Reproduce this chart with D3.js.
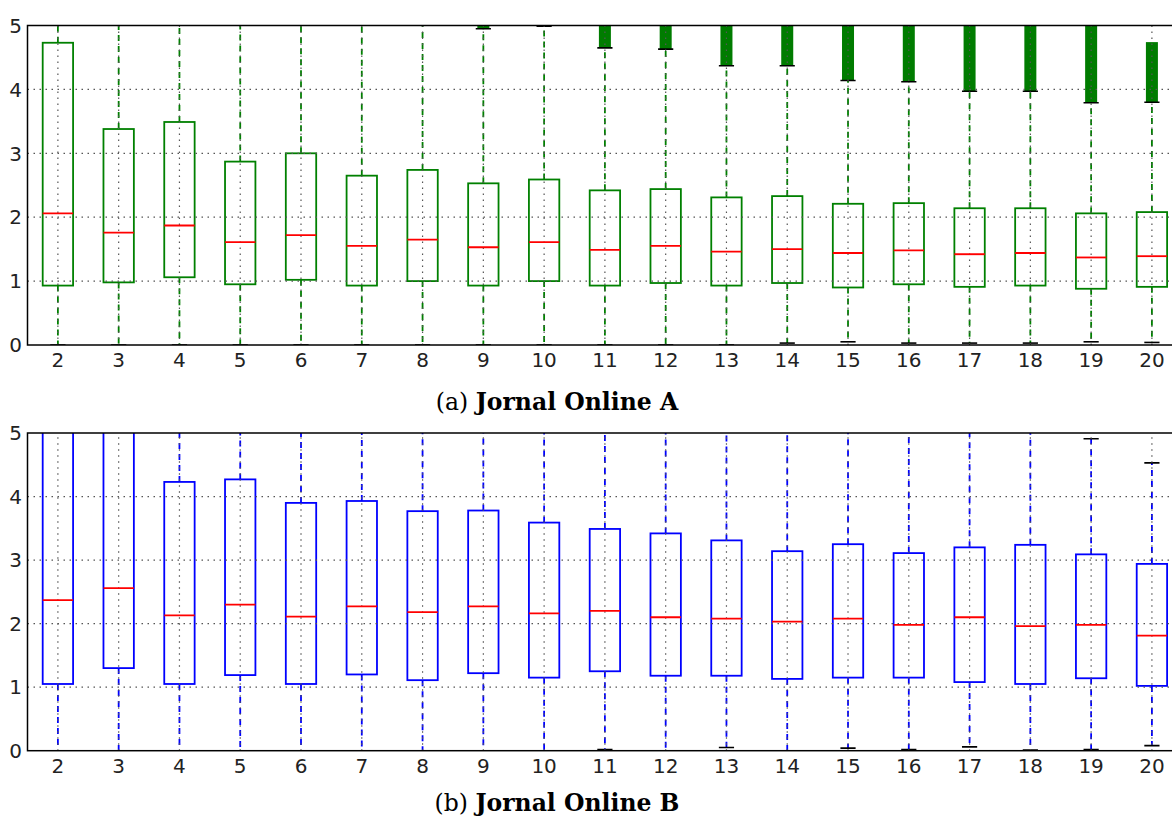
<!DOCTYPE html>
<html>
<head>
<meta charset="utf-8">
<script src="https://cdnjs.cloudflare.com/ajax/libs/d3/7.8.5/d3.min.js"></script>
<style>
    body { margin: 0; background: #fff; }
    .tick-label { font-family: "DejaVu Sans", sans-serif; font-size: 20px; fill: #222; }
    .caption { font-family: "DejaVu Serif", serif; font-size: 23.5px; fill: #000; }
</style>
</head>
<body>
<script>

var categories = [2, 3, 4, 5, 6, 7, 8, 9, 10, 11, 12, 13, 14, 15, 16, 17, 18, 19, 20];
var yTicks = [0, 1, 2, 3, 4, 5];

// Jornal Online A
var aQ1 = [0.93, 0.98, 1.06, 0.95, 1.02, 0.93, 1.00, 0.93, 1.00, 0.93, 0.97, 0.93, 0.97, 0.90, 0.95, 0.91, 0.93, 0.88, 0.91];
var aMedian = [2.06, 1.76, 1.87, 1.61, 1.72, 1.55, 1.65, 1.53, 1.61, 1.49, 1.55, 1.46, 1.50, 1.44, 1.48, 1.42, 1.44, 1.37, 1.39];
var aQ3 = [4.73, 3.38, 3.49, 2.87, 3.00, 2.65, 2.74, 2.53, 2.59, 2.42, 2.44, 2.31, 2.33, 2.21, 2.22, 2.14, 2.14, 2.06, 2.08];
var aWhiskerLow = [0, 0, 0, 0, 0, 0, 0, 0, 0, 0, 0, 0, 0.03, 0.05, 0.03, 0.03, 0.03, 0.05, 0.04];
var aWhiskerHigh = [5.5, 5.5, 5.5, 5.5, 5.5, 5.5, 5.5, 4.95, 4.99, 4.65, 4.63, 4.37, 4.37, 4.14, 4.12, 3.97, 3.97, 3.79, 3.80];
var aFlierMax = [null, null, null, null, null, null, null, 5.5, 5.5, 5.5, 5.5, 5.5, 5.5, 5.5, 5.5, 5.5, 5.5, 5.5, 4.74];

// Jornal Online B
var bQ1 = [1.05, 1.30, 1.05, 1.19, 1.05, 1.20, 1.11, 1.22, 1.15, 1.25, 1.18, 1.18, 1.13, 1.15, 1.15, 1.08, 1.05, 1.14, 1.02];
var bMedian = [2.37, 2.56, 2.13, 2.30, 2.11, 2.27, 2.18, 2.27, 2.16, 2.20, 2.10, 2.08, 2.03, 2.08, 1.98, 2.10, 1.96, 1.98, 1.81];
var bQ3 = [5.5, 5.5, 4.23, 4.27, 3.90, 3.93, 3.77, 3.78, 3.59, 3.49, 3.42, 3.31, 3.14, 3.25, 3.11, 3.20, 3.24, 3.09, 2.94];
var bWhiskerLow = [0, 0, 0, 0, 0, 0, 0, 0, 0, 0.02, 0, 0.05, 0, 0.04, 0.02, 0.06, 0.01, 0.02, 0.08];
var bWhiskerHigh = [5.5, 5.5, 5.5, 5.5, 5.5, 5.5, 5.5, 5.5, 5.5, 5.5, 5.5, 5.5, 5.5, 5.5, 5.5, 5.5, 5.5, 4.91, 4.53];
var bFlierMax = categories.map(() => null);

var width = 1172, height = 820;

var svg = d3.select("body").append("svg")
    .attr("width", width)
    .attr("height", height);

function panel(id, top, bottom, q1, med, q3, lo, hi, fmax, colour, caption, letter, captionY) {

    var rows = categories.map((c, i) => ({
        cat: c, q1: q1[i], med: med[i], q3: q3[i], lo: lo[i], hi: hi[i], fmax: fmax[i]
    }));

    var x = d3.scaleLinear()
        .domain([0.5, categories.length + 0.5])
        .range([27.5, 1182.3]);

    var y = d3.scaleLinear()
        .domain([0, 5])
        .range([bottom, top]);

    var step = x(2) - x(1);
    var boxW = step * 0.5;

    var g = svg.append('g');

    svg.append('clipPath')
        .attr('id', 'clip' + id)
        .append('rect')
        .attr('x', x(0.5))
        .attr('y', y(5))
        .attr('width', x(categories.length + 0.5) - x(0.5))
        .attr('height', y(0) - y(5));

    var plot = g.append('g').attr('clip-path', `url(#clip${id})`);

    // whiskers (dashed)
    plot.selectAll('line.whiskLo')
        .data(rows)
        .enter()
        .append('line')
        .attr('x1', (e, i) => x(i + 1))
        .attr('x2', (e, i) => x(i + 1))
        .attr('y1', e => y(e.q1))
        .attr('y2', e => y(e.lo))
        .style('stroke', colour)
        .style('stroke-width', 1.8)
        .style('stroke-dasharray', '6,5');

    plot.selectAll('line.whiskHi')
        .data(rows)
        .enter()
        .append('line')
        .attr('x1', (e, i) => x(i + 1))
        .attr('x2', (e, i) => x(i + 1))
        .attr('y1', e => y(e.q3))
        .attr('y2', e => y(e.hi))
        .style('stroke', colour)
        .style('stroke-width', 1.8)
        .style('stroke-dasharray', '6,5');

    // fliers, packed so densely they form a solid band
    plot.selectAll('rect.flier')
        .data(rows.filter(e => e.fmax != null))
        .enter()
        .append('rect')
        .attr('x', e => x(categories.indexOf(e.cat) + 1) - 6)
        .attr('width', 12)
        .attr('y', e => y(e.fmax))
        .attr('height', e => y(e.hi) - y(e.fmax))
        .style('fill', '#007c00');

    // caps
    plot.selectAll('line.capLo')
        .data(rows)
        .enter()
        .append('line')
        .attr('x1', (e, i) => x(i + 1) - boxW / 4)
        .attr('x2', (e, i) => x(i + 1) + boxW / 4)
        .attr('y1', e => y(e.lo))
        .attr('y2', e => y(e.lo))
        .style('stroke', '#000')
        .style('stroke-width', 1.6);

    plot.selectAll('line.capHi')
        .data(rows)
        .enter()
        .append('line')
        .attr('x1', (e, i) => x(i + 1) - boxW / 4)
        .attr('x2', (e, i) => x(i + 1) + boxW / 4)
        .attr('y1', e => y(e.hi))
        .attr('y2', e => y(e.hi))
        .style('stroke', '#000')
        .style('stroke-width', 1.6);

    // boxes
    plot.selectAll('rect.box')
        .data(rows)
        .enter()
        .append('rect')
        .attr('x', (e, i) => x(i + 1) - boxW / 2)
        .attr('width', boxW)
        .attr('y', e => y(e.q3))
        .attr('height', e => y(e.q1) - y(e.q3))
        .style('fill', 'none')
        .style('stroke', colour)
        .style('stroke-width', 1.8);

    // grid (dotted, drawn over the marks like matplotlib)
    plot.selectAll('line.hgrid')
        .data(yTicks.slice(1, -1))
        .enter()
        .append('line')
        .attr('x1', x(0.5))
        .attr('x2', x(categories.length + 0.5))
        .attr('y1', e => y(e))
        .attr('y2', e => y(e))
        .style('stroke', '#555')
        .style('stroke-width', 1.2)
        .style('stroke-dasharray', '1.5,4.5');

    plot.selectAll('line.vgrid')
        .data(categories)
        .enter()
        .append('line')
        .attr('x1', (e, i) => x(i + 1))
        .attr('x2', (e, i) => x(i + 1))
        .attr('y1', y(0))
        .attr('y2', y(5))
        .style('stroke', '#555')
        .style('stroke-width', 1.2)
        .style('stroke-dasharray', '1.5,4.5');

    // medians
    plot.selectAll('line.median')
        .data(rows)
        .enter()
        .append('line')
        .attr('x1', (e, i) => x(i + 1) - boxW / 2)
        .attr('x2', (e, i) => x(i + 1) + boxW / 2)
        .attr('y1', e => y(e.med))
        .attr('y2', e => y(e.med))
        .style('stroke', '#ff0000')
        .style('stroke-width', 1.8);

    // frame
    g.append('rect')
        .attr('x', x(0.5))
        .attr('y', y(5))
        .attr('width', x(categories.length + 0.5) - x(0.5))
        .attr('height', y(0) - y(5))
        .style('fill', 'none')
        .style('stroke', '#000')
        .style('stroke-width', 1.5);

    // tick labels
    g.selectAll('text.ylab')
        .data(yTicks)
        .enter()
        .append('text')
        .attr('class', 'tick-label')
        .attr('x', 22)
        .attr('y', e => y(e))
        .attr('dy', '0.36em')
        .style('text-anchor', 'end')
        .text(e => e);

    g.selectAll('text.xlab')
        .data(categories)
        .enter()
        .append('text')
        .attr('class', 'tick-label')
        .attr('x', (e, i) => x(i + 1))
        .attr('y', y(0) + 22)
        .style('text-anchor', 'middle')
        .text(e => e);

    var cap = g.append('text')
        .attr('class', 'caption')
        .attr('x', 557)
        .attr('y', captionY)
        .style('text-anchor', 'middle');
    cap.append('tspan').text('(' + letter + ') ');
    cap.append('tspan').style('font-weight', 'bold').text(caption);
}

panel('a', 25.5, 345, aQ1, aMedian, aQ3, aWhiskerLow, aWhiskerHigh, aFlierMax, '#008000', 'Jornal Online A', 'a', 410);
panel('b', 433, 750.7, bQ1, bMedian, bQ3, bWhiskerLow, bWhiskerHigh, bFlierMax, '#0000ff', 'Jornal Online B', 'b', 811);

</script>
</body>
</html>
